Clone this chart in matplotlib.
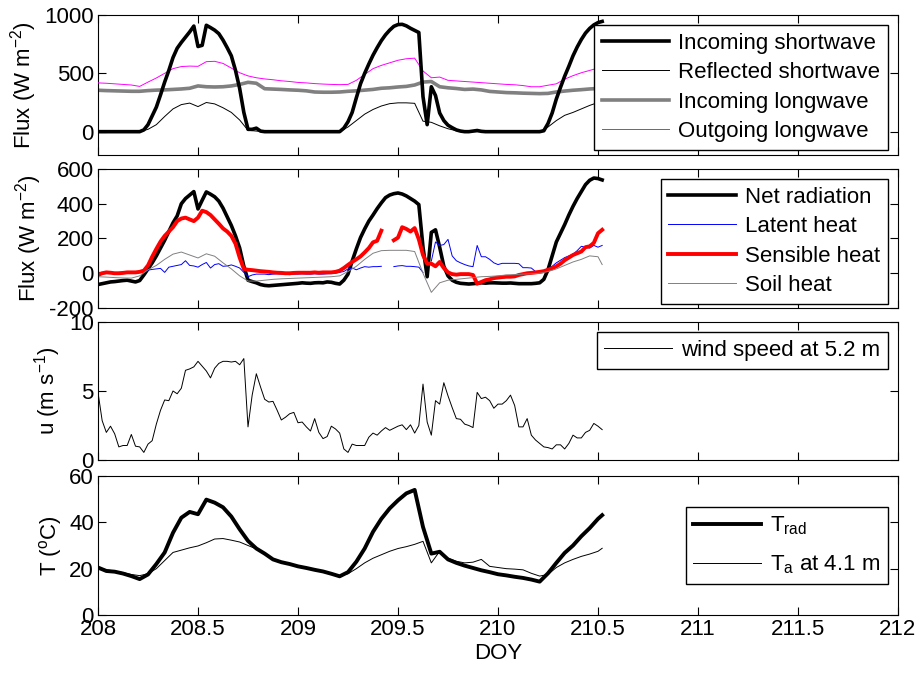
import numpy as np
import matplotlib
matplotlib.use('Agg')
import matplotlib.pyplot as plt

plt.rcParams['font.family'] = ['Liberation Sans', 'DejaVu Sans']
plt.rcParams['mathtext.default'] = 'regular'
plt.rcParams['font.size'] = 16
plt.rcParams['axes.linewidth'] = 0.8
plt.rcParams['axes.unicode_minus'] = False

nan = np.nan

# Time axes (day of year): half-hourly and hourly samples
t_half = 208 + np.arange(122) / 48.0
t_hour = np.append(t_half[::2], t_half[-1])

# ---------------- Panel 1: radiation components (W m-2) ----------------
sw_in = [0, 0, 0, 0, 0, 0, 0, 0, 0, 0, 0,
         15, 60, 135, 210, 315, 425, 525, 635, 715, 765, 810, 855, 905, 730, 740,
         912, 892, 870, 840, 785, 720, 650, 525, 370, 165, 20, 20, 30, 5,
         0, 0, 0, 0, 0, 0, 0, 0, 0, 0, 0, 0, 0, 0, 0, 0, 0, 0, 0,
         30, 85, 165, 290, 410, 500, 580, 655, 720, 780, 830, 870, 903, 918, 920,
         907, 886, 868, 850, 300, 60, 385, 310, 160, 95, 55, 34, 15, 5,
         0, 0, 5, 10, 3, 0, 0, 0, 0, 0, 0, 0, 0, 0, 0, 0, 0, 0, 0,
         8, 70, 160, 280, 380, 475, 560, 650, 725, 790, 845, 885, 915, 935, 945]

sw_out = [0, 0, 0, 0, 0, 0, 20, 60, 130, 195, 232, 245, 215, 250, 238, 205,
          165, 100, 12, 5, 0, 0, 0, 0, 0, 0, 0, 0, 0, 0, 40, 95, 150, 190, 220,
          240, 247, 247, 243, 90, 80, 50, 25, 8, 0, 0, 0, 0, 0, 0, 0, 0, 0, 0,
          40, 95, 140, 165, 195, 225, 250, 260]

lw_in = [355, 352, 350, 348, 346, 346, 352, 356, 358, 362, 366, 372, 392, 385,
         383, 385, 392, 405, 423, 415, 368, 365, 362, 358, 355, 350, 340, 338,
         338, 340, 346, 350, 356, 362, 372, 376, 383, 388, 400, 425, 430, 385,
         376, 370, 362, 365, 358, 345, 340, 335, 333, 330, 328, 326, 328, 340,
         348, 355, 360, 366, 370, 372]

lw_out = [418, 415, 410, 405, 400, 388, 425, 460, 500, 540, 558, 562, 560, 600,
          603, 585, 545, 505, 478, 462, 452, 445, 436, 430, 422, 418, 412, 408,
          405, 403, 405, 440, 490, 540, 568, 590, 612, 625, 630, 520, 462, 468,
          440, 435, 430, 425, 420, 415, 410, 405, 402, 395, 385, 385, 398, 410,
          450, 480, 505, 525, 545, 550]

# ---------------- Panel 2: energy balance (W m-2) ----------------
net_rad = [-65, -60, -55, -50, -48, -45, -42, -40, -45, -50, -42,
           -10, 25, 60, 100, 145, 190, 240, 290, 330, 400, 430, 450, 470, 370, 420,
           468, 455, 440, 415, 375, 325, 275, 215, 145, 40, -40, -48, -55, -65,
           -70, -72, -70, -68, -66, -64, -62, -60, -58, -55, -57, -58, -55, -54,
           -55, -50, -52, -58, -62,
           -40, -5, 70, 140, 205, 255, 300, 335, 372, 405, 435, 450, 458, 462, 456,
           445, 430, 415, 395, 150, -20, 235, 250, 150, 40, -15, -40, -52, -58,
           -60, -62, -60, -58, -55, -57, -55, -55, -56, -57, -57, -56, -58, -60,
           -60, -60, -60, -58, -55,
           -35, 20, 100, 180, 230, 280, 335, 385, 430, 470, 510, 535, 548, 545, 537]

latent = [5, 5, 5, 0, 0, 5, 5, 5, 5, 10, 10,
          15, 18, 22, 25, 28, 5, 35, 40, 45, 50, 72, 45, 42, 35, 50, 62, 30, 50,
          55, 40, 42, 48, 40, 30, 5, -20, -10, -5, -5,
          -5, -8, -5, -3, -5, -5, -8, -5, -5, -3, -5, -5, -3, -5, -5, -3, -2, 0, 5,
          10, 25, 30, 20, 30, 38, 35, 38, 38, 40, nan, nan, 38, 42, 44, 40, 40, 38,
          35, 5, nan, 70, 180, 160, 165, 195, 100, 72, 60,
          50, 42, 38, 160, 95, 95, 80, 60, 50, 57, 57, 57, 57, 55, 32, 32, 30, 10, 10,
          15, 25, 40, 60, 75, 90, 100, 110, 130, 155, 150, 145, 160, 150, 160]

sensible = [-10, 0, 5, 3, 0, 0, 2, 5, 5, 5, 8,
            15, 45, 95, 140, 182, 215, 240, 265, 300, 315, 320, 310, 300, 320, 360,
            352, 335, 310, 285, 258, 240, 215, 170, 90, 25, 20, 18, 15, 12,
            10, 8, 5, 3, 2, 0, 0, 2, 3, 3, 3, 3, 5, 3, 5, 5, 5, 8, 15,
            30, 48, 65, 80, 97, 120, 145, 178, 187, 245, nan, nan, 190, 205, 265,
            255, 240, 260, 195, 105, 55, 55, 40, 65, 30, 5, -5, -8, -5,
            -5, -5, -10, -60, -50, -40, -35, -28, -25, -22, -20, -20, -18, -10, -5,
            0, 2, 5, 8,
            12, 20, 28, 40, 55, 75, 90, 105, 115, 125, 150, 155, 175, 230, 250]

soil = [-20, -22, -25, -27, -28, -15, 20, 45, 80, 110, 122, 105, 88, 112, 98,
        60, 25, -15, -45, -45, -40, -35, -32, -30, -28, -26, -24, -22, -20, -15,
        10, 40, 80, 115, 130, 132, 132, 132, 125, 0, -110, -55, -40, -35, -30,
        -25, -20, -18, -15, -10, -8, -5, -3, 0, 10, 25, 45, 65, 80, 100, 95, 50]

# ---------------- Panel 3: wind speed (m s-1) ----------------
wind = [4.9, 2.85, 2.0, 2.45, 1.9, 0.95, 1.05, 1.05, 1.85, 1.0, 0.95, 0.55,
        1.15, 1.4, 2.6, 3.6, 4.35, 4.3, 5.0, 4.8, 5.2, 6.5, 6.6, 6.75, 7.15,
        6.8, 6.45, 5.95, 6.65, 7.0, 7.15, 7.15, 7.1, 7.15, 6.9, 7.35, 2.4, 4.7,
        6.25, 5.3, 4.4, 4.2, 4.25, 3.6, 2.9, 3.1, 3.35, 3.45, 2.7, 2.75, 2.4,
        2.1, 3.0, 2.0, 1.55, 1.7, 2.45, 2.25, 1.95, 0.8, 0.55, 1.15, 1.05, 1.05,
        1.05, 1.65, 1.95,
        1.8, 2.1, 2.35, 2.15, 2.3, 2.45, 2.55, 2.2, 2.55, 1.95, 2.5, 5.5, 2.75,
        1.8, 4.3, 4.05, 5.6, 4.65, 3.8, 3.0, 2.95, 2.6, 2.5, 2.35, 4.9, 4.45,
        4.55, 4.3, 3.75, 4.05, 4.05, 4.3, 4.7, 3.95, 2.4, 2.4, 3.0, 1.8, 1.45,
        1.2, 0.95, 0.9, 0.8, 1.1, 1.1, 0.8, 1.2, 1.8, 1.6, 1.6, 2.0, 2.15, 2.65,
        2.45, 2.2]

# ---------------- Panel 4: temperatures (deg C) ----------------
t_rad = [20.5, 19.0, 18.7, 17.9, 16.8, 15.5, 17.5, 22.0, 27.0, 35.5, 42.0,
         44.5, 43.5, 49.8, 48.5, 46.5, 42.5, 37.0, 32.0, 28.7, 26.5, 24.0, 22.8,
         22.0, 21.0, 20.3, 19.5, 18.8, 17.8, 16.7, 18.5, 23.0, 28.7, 35.9, 41.5,
         46.0, 49.5, 52.5, 54.0, 38.0, 26.5, 27.3, 24.0, 22.5, 21.3, 20.3, 19.3,
         18.5, 17.6, 17.1, 16.5, 16.0, 15.3, 14.4, 18.0, 22.5, 26.8, 30.0, 34.0,
         37.5, 41.5, 43.1]

t_air = [20.5, 19.5, 19.0, 18.3, 17.5, 17.0, 17.8, 20.0, 23.5, 27.0, 28.0,
         29.0, 29.8, 31.2, 32.8, 33.0, 32.3, 31.5, 30.0, 28.5, 26.3, 24.3, 23.0,
         22.0, 21.2, 20.5, 19.8, 19.0, 18.0, 17.0, 17.8, 20.0, 22.5, 24.5, 26.0,
         27.5, 28.7, 29.5, 30.5, 31.8, 22.5, 27.5, 24.5, 23.2, 22.5, 22.8, 24.0,
         21.0, 20.5, 20.0, 19.8, 19.5, 18.0, 16.8, 17.5, 20.5, 22.5, 24.0, 25.3,
         26.3, 27.5, 28.8]

x_ticks = [208, 208.5, 209, 209.5, 210, 210.5, 211, 211.5, 212]
x_labels = ['208', '208.5', '209', '209.5', '210', '210.5', '211', '211.5', '212']

# ---------------- Figure ----------------
W, H = 923, 673
fig = plt.figure(figsize=(W / 100, H / 100), dpi=100)

def add_axes(top_px, bottom_px):
    left = 98 / W
    width = 800 / W
    return fig.add_axes([left, 1 - bottom_px / H, width, (bottom_px - top_px) / H])

ax1 = add_axes(15, 155)
ax2 = add_axes(169, 308)
ax3 = add_axes(322, 460)
ax4 = add_axes(476, 615)

leg_kw = dict(fontsize=16, handlelength=3.05, handletextpad=0.4, borderpad=0.35,
              fancybox=False, edgecolor='black', framealpha=1.0, borderaxespad=0.45)

# Panel 1
ax1.plot(t_half, sw_in, color='black', lw=2.6, label='Incoming shortwave', zorder=4)
ax1.plot(t_hour, sw_out, color='black', lw=0.7, label='Reflected shortwave', zorder=3)
ax1.plot(t_hour, lw_in, color='#808080', lw=2.6, label='Incoming longwave', zorder=2)
ax1.plot(t_hour, lw_out, color='#ff00ff', lw=0.7, label='Outgoing longwave', zorder=3)
ax1.set_ylim(-200, 1000)
ax1.set_yticks([0, 500, 1000])
ax1.set_ylabel('Flux (W m$^{-2}$)')
lg = ax1.legend(loc='upper right', labelspacing=0.38, **leg_kw)
lg.get_frame().set_linewidth(1.0)

# Panel 2
ax2.plot(t_half, net_rad, color='black', lw=2.6, label='Net radiation')
ax2.plot(t_half, latent, color='#0000ff', lw=0.7, label='Latent heat')
ax2.plot(t_half, sensible, color='#ff0000', lw=2.8, label='Sensible heat')
ax2.plot(t_hour, soil, color='#808080', lw=0.7, label='Soil heat')
ax2.set_ylim(-200, 600)
ax2.set_yticks([-200, 0, 200, 400, 600])
ax2.set_ylabel('Flux (W m$^{-2}$)')
lg = ax2.legend(loc='upper right', labelspacing=0.38, **leg_kw)
lg.get_frame().set_linewidth(1.0)

# Panel 3
ax3.plot(t_half, wind, color='black', lw=0.7, label='wind speed at 5.2 m')
ax3.set_ylim(0, 10)
ax3.set_yticks([0, 5, 10])
ax3.set_ylabel('u (m s$^{-1}$)')
lg = ax3.legend(loc='upper right', labelspacing=0.38, **leg_kw)
lg.get_frame().set_linewidth(1.0)

# Panel 4
ax4.plot(t_hour, t_rad, color='black', lw=2.8, label='T$_{rad}$')
ax4.plot(t_hour, t_air, color='black', lw=0.7, label='T$_{a}$ at 4.1 m')
ax4.set_ylim(0, 60)
ax4.set_yticks([0, 20, 40, 60])
ax4.set_ylabel('T ($^{o}$C)')
ax4.set_xlabel('DOY', labelpad=2)
lg = ax4.legend(loc='center right', labelspacing=0.75, **leg_kw)
lg.get_frame().set_linewidth(1.0)

for ax in (ax1, ax2, ax3, ax4):
    ax.set_xlim(208, 212)
    ax.set_xticks(x_ticks)
    ax.tick_params(direction='in', top=True, right=True, length=5.5, width=0.8,
                   labelsize=16, pad=3)
    for s in ax.spines.values():
        s.set_color('black')
for ax in (ax1, ax2, ax3):
    ax.set_xticklabels([])
ax4.set_xticklabels(x_labels)

fig.savefig('out.png', dpi=100)
